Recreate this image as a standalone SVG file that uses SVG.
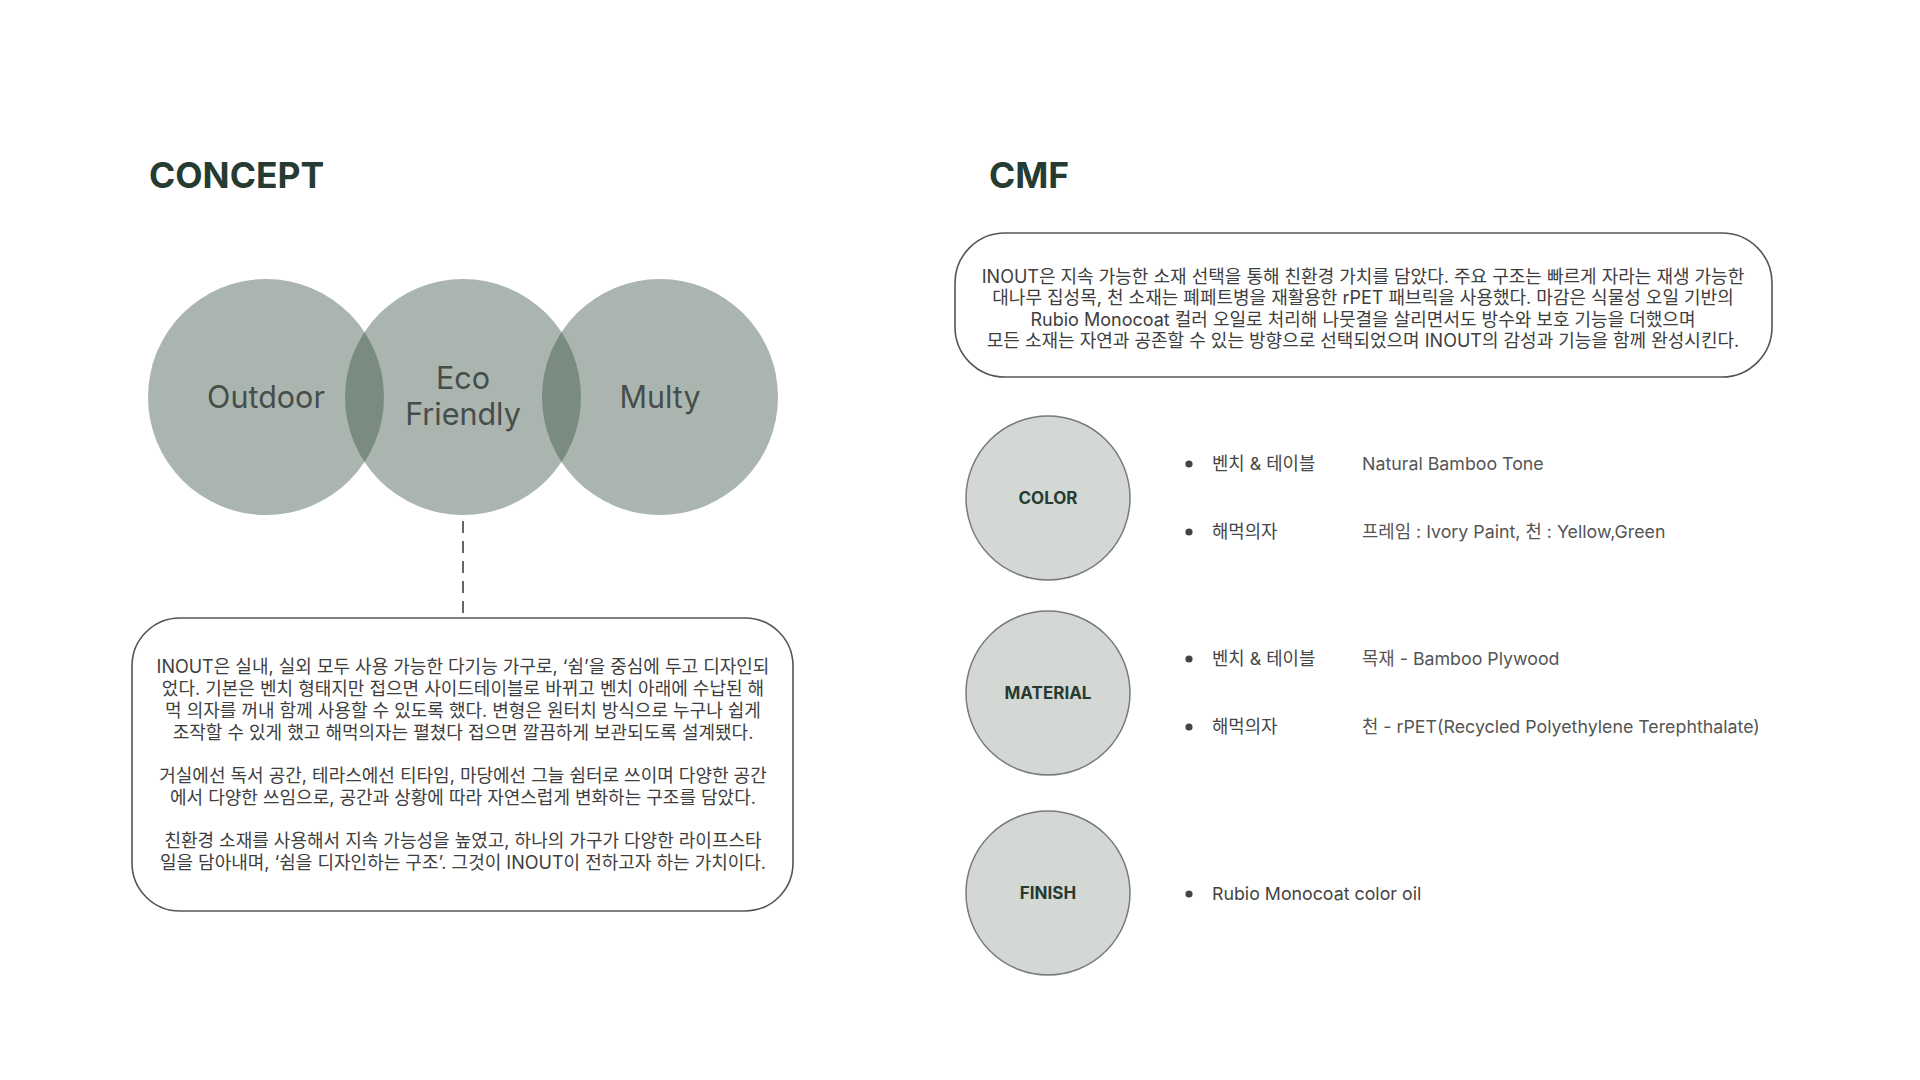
<svg xmlns="http://www.w3.org/2000/svg" width="1920" height="1080" viewBox="0 0 1920 1080">
<style>
  .title{font-family:Inter,"Noto Sans CJK KR",sans-serif;font-weight:700;font-size:35.5px;fill:#263b32}
  .venn{fill:#3d5749;fill-opacity:0.44}
  .vlabel{font-family:Inter,"Noto Sans CJK KR",sans-serif;font-size:30.5px;fill:#474d4a;text-anchor:middle}
  .box{fill:#ffffff;stroke:#555;stroke-width:1.6}
  .body{font-family:Inter,"Noto Sans CJK KR",sans-serif;font-size:18px;fill:#3e3e3e;text-anchor:middle}
  .cat{fill:#d3d8d4;stroke:#7a7a7a;stroke-width:1.5}
  .catlabel{font-family:Inter,"Noto Sans CJK KR",sans-serif;font-weight:700;font-size:17px;fill:#263b32;text-anchor:middle}
  .item{font-family:Inter,"Noto Sans CJK KR",sans-serif;font-size:17.8px;fill:#444}
  .val{font-family:Inter,"Noto Sans CJK KR",sans-serif;font-size:17.8px;fill:#555}
  .bullet{fill:#444}
  .conn{stroke:#666;stroke-width:2;stroke-dasharray:12 8;fill:none}
</style>
<rect width="1920" height="1080" fill="#ffffff"/>

<text id="concept-title" class="title" x="149" y="188">CONCEPT</text>
<text id="cmf-title" class="title" x="989" y="188">CMF</text>

<g id="venn-outdoor">
  <circle class="venn" cx="266" cy="397" r="118"/>
  <text class="vlabel" x="266" y="408">Outdoor</text>
</g>
<g id="venn-eco">
  <circle class="venn" cx="463" cy="397" r="118"/>
  <text class="vlabel" x="463" y="389">Eco</text>
  <text class="vlabel" x="463" y="425">Friendly</text>
</g>
<g id="venn-multy">
  <circle class="venn" cx="660" cy="397" r="118"/>
  <text class="vlabel" x="660" y="408">Multy</text>
</g>

<g id="connectors">
  <line class="conn" x1="463" y1="521" x2="463" y2="617"/>
</g>

<g id="concept-box">
  <rect class="box" x="132" y="618" width="661" height="293" rx="48" ry="48"/>
  <text class="body" x="463" y="673">INOUT은 실내, 실외 모두 사용 가능한 다기능 가구로, ‘쉼’을 중심에 두고 디자인되</text>
  <text class="body" x="463" y="695">었다. 기본은 벤치 형태지만 접으면 사이드테이블로 바뀌고 벤치 아래에 수납된 해</text>
  <text class="body" x="463" y="717">먹 의자를 꺼내 함께 사용할 수 있도록 했다. 변형은 원터치 방식으로 누구나 쉽게</text>
  <text class="body" x="463" y="739">조작할 수 있게 했고 해먹의자는 펼쳤다 접으면 깔끔하게 보관되도록 설계됐다.</text>
  <text class="body" x="463" y="782">거실에선 독서 공간, 테라스에선 티타임, 마당에선 그늘 쉼터로 쓰이며 다양한 공간</text>
  <text class="body" x="463" y="804">에서 다양한 쓰임으로, 공간과 상황에 따라 자연스럽게 변화하는 구조를 담았다.</text>
  <text class="body" x="463" y="847">친환경 소재를 사용해서 지속 가능성을 높였고, 하나의 가구가 다양한 라이프스타</text>
  <text class="body" x="463" y="869">일을 담아내며, ‘쉼을 디자인하는 구조’. 그것이 INOUT이 전하고자 하는 가치이다.</text>
</g>

<g id="cmf-box">
  <rect class="box" x="955" y="233" width="817" height="144" rx="50" ry="50"/>
  <text class="body" x="1363" y="283">INOUT은 지속 가능한 소재 선택을 통해 친환경 가치를 담았다. 주요 구조는 빠르게 자라는 재생 가능한</text>
  <text class="body" x="1363" y="304">대나무 집성목, 천 소재는 폐페트병을 재활용한 rPET 패브릭을 사용했다. 마감은 식물성 오일 기반의</text>
  <text class="body" x="1363" y="326">Rubio Monocoat 컬러 오일로 처리해 나뭇결을 살리면서도 방수와 보호 기능을 더했으며</text>
  <text class="body" x="1363" y="347">모든 소재는 자연과 공존할 수 있는 방향으로 선택되었으며 INOUT의 감성과 기능을 함께 완성시킨다.</text>
</g>

<g id="color">
  <circle class="cat" cx="1048" cy="498" r="82"/>
  <text class="catlabel" x="1048" y="504">COLOR</text>
  <circle class="bullet" cx="1189" cy="464" r="3.6"/>
  <text class="item" x="1212" y="470">벤치 &amp; 테이블</text>
  <text class="val" x="1362" y="470">Natural Bamboo Tone</text>
  <circle class="bullet" cx="1189" cy="532" r="3.6"/>
  <text class="item" x="1212" y="538">해먹의자</text>
  <text class="val" x="1362" y="538">프레임 : Ivory Paint, 천 : Yellow,Green</text>
</g>

<g id="material">
  <circle class="cat" cx="1048" cy="693" r="82"/>
  <text class="catlabel" x="1048" y="699">MATERIAL</text>
  <circle class="bullet" cx="1189" cy="659" r="3.6"/>
  <text class="item" x="1212" y="665">벤치 &amp; 테이블</text>
  <text class="val" x="1362" y="665">목재 - Bamboo Plywood</text>
  <circle class="bullet" cx="1189" cy="727" r="3.6"/>
  <text class="item" x="1212" y="733">해먹의자</text>
  <text class="val" x="1362" y="733">천 - rPET(Recycled Polyethylene Terephthalate)</text>
</g>

<g id="finish">
  <circle class="cat" cx="1048" cy="893" r="82"/>
  <text class="catlabel" x="1048" y="899">FINISH</text>
  <circle class="bullet" cx="1189" cy="894" r="3.6"/>
  <text class="item" x="1212" y="900">Rubio Monocoat color oil</text>
</g>
</svg>
